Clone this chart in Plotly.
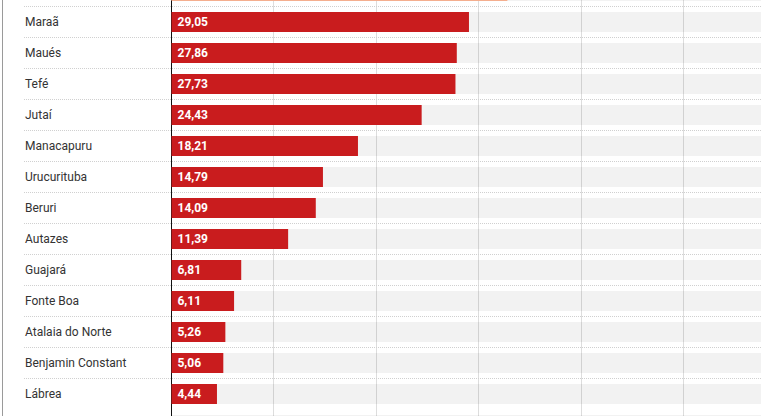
import plotly.graph_objects as go

# Data (top row and bottom row are cut off in the reference)
categories = [" ", "Maraã", "Maués", "Tefé", "Jutaí", "Manacapuru", "Urucurituba", "Beruri",
              "Autazes", "Guajará", "Fonte Boa", "Atalaia do Norte", "Benjamin Constant",
              "Lábrea", "  "]
values = [32.8, 29.05, 27.86, 27.73, 24.43, 18.21, 14.79, 14.09, 11.39, 6.81, 6.11, 5.26,
          5.06, 4.44, None]
bar_colors = ["#f4ae8e"] + ["#c91c1e"] * 14
background_max = 60
grid_values = [10, 20, 30, 40, 50]

W, H = 761, 416
px_per_unit = 10.24
zero_px = 171.5
left_px = 24
x_min = -(zero_px - left_px) / px_per_unit
x_max = (W - zero_px) / px_per_unit

row_px = 31
first_center_px = 22
y_top = 1 - first_center_px / row_px
y_bottom = y_top + H / row_px

text_templates = ["" if not c.strip() else "\u00a0%{x:.2f}" for c in categories]

fig = go.Figure()
fig.add_trace(go.Bar(
    y=categories, x=[background_max] * len(categories), orientation="h",
    marker=dict(color="rgba(0,0,0,0.052)", line=dict(width=0)),
    hoverinfo="skip", showlegend=False,
))
fig.add_trace(go.Bar(
    y=categories, x=values, orientation="h",
    marker=dict(color=bar_colors, line=dict(width=0)),
    texttemplate=text_templates, textposition="inside", insidetextanchor="start",
    textfont=dict(family="Roboto", size=12, color="white", weight="bold"),
    constraintext="none",
    showlegend=False,
))

annotations = []
for c in categories:
    if c.strip():
        annotations.append(dict(
            x=left_px / W, xref="paper", y=c, yref="y", text=c, showarrow=False,
            xanchor="left", yanchor="middle", xshift=-1,
            font=dict(family="Roboto", size=12, color="#333333"),
        ))

fig.update_layout(
    width=W, height=H, margin=dict(l=0, r=0, t=0, b=0),
    paper_bgcolor="white", plot_bgcolor="white",
    barmode="overlay", bargap=11 / 31,
    separators=",.",
    annotations=annotations,
    xaxis=dict(
        domain=[left_px / W, 1], range=[x_min, x_max],
        tickvals=grid_values, showticklabels=False, ticks="",
        showgrid=True, gridcolor="#dddddd", gridwidth=1,
        zeroline=True, zerolinecolor="#111111", zerolinewidth=1.3,
        showline=False, fixedrange=True,
    ),
    yaxis=dict(
        type="category", categoryorder="array", categoryarray=categories,
        range=[y_bottom, y_top], tickson="boundaries",
        showticklabels=False, ticks="",
        showgrid=True, gridcolor="#d0d0d0", gridwidth=1, griddash="1px,1px",
        zeroline=False, showline=False, fixedrange=True,
    ),
    shapes=[dict(type="line", xref="paper", yref="paper", x0=2.5 / W, x1=2.5 / W,
                 y0=0, y1=1, line=dict(color="#9a9a9a", width=1))],
    font=dict(family="Roboto"),
)

fig.write_html("out.html", config={"displayModeBar": False},
               post_script="document.body.style.margin='0';document.body.style.overflow='hidden';")
